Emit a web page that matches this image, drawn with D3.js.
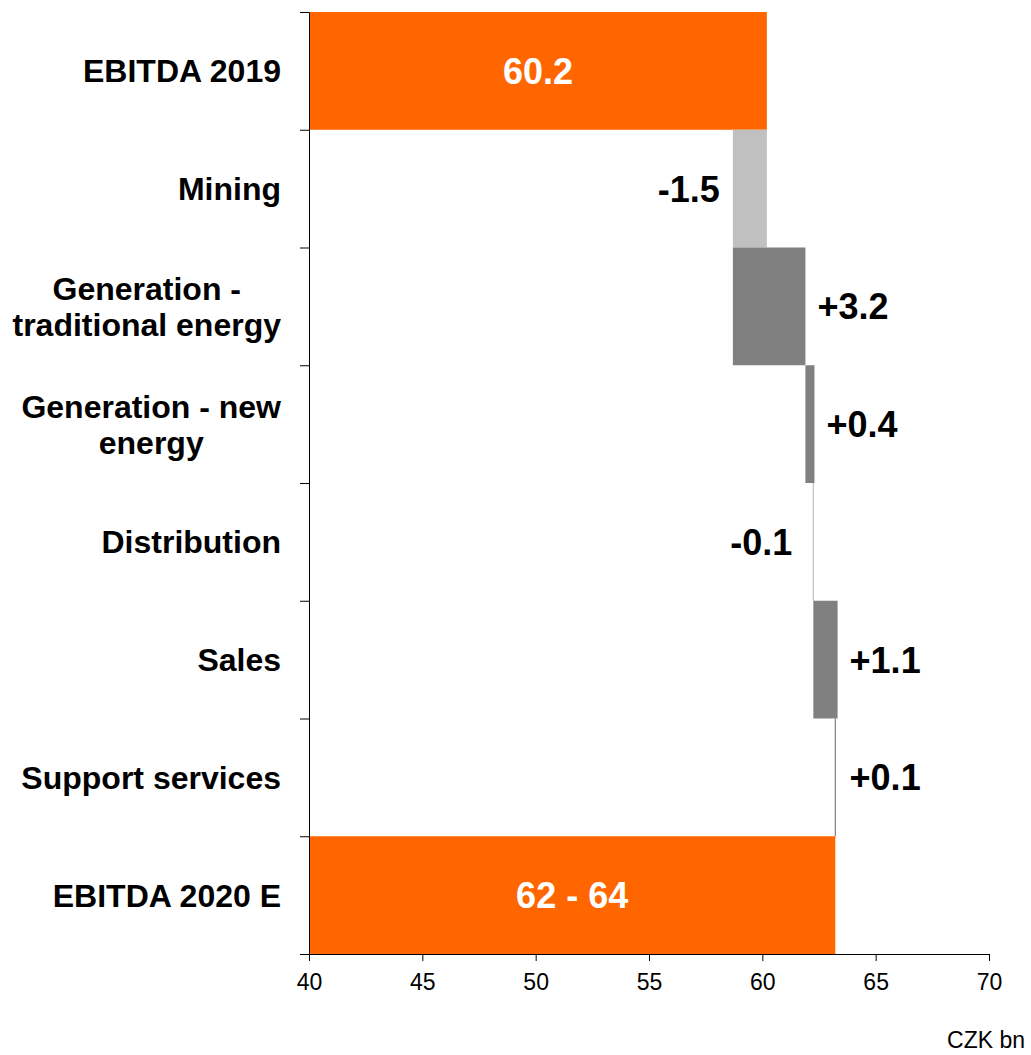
<!DOCTYPE html>
<html>
<head>
<meta charset="utf-8">
<script src="https://cdn.jsdelivr.net/npm/d3@7"></script>
<style>
  html, body { margin: 0; padding: 0; background: #fff; }
  svg { display: block; font-family: "Liberation Sans", Arial, sans-serif; }
</style>
</head>
<body>
<svg id="chart" width="1031" height="1055"></svg>
<script>
// ---- data ----
const categories = ["EBITDA 2019", "Mining", "Generation - traditional energy", "Generation - new energy",
                    "Distribution", "Sales", "Support services", "EBITDA 2020 E"];
const categoryLines = [["EBITDA 2019"], ["Mining"], ["Generation -", "traditional energy"],
                       ["Generation - new", "energy"], ["Distribution"], ["Sales"], ["Support services"], ["EBITDA 2020 E"]];
const startValue = 60.2;
const deltas = [-1.5, 3.2, 0.4, -0.05, 1.07, -0.1];   // as drawn in the picture
const deltaLabels = ["-1.5", "+3.2", "+0.4", "-0.1", "+1.1", "+0.1"];
const endValue = 63.22;
const totalLabels = ["60.2", "62 - 64"];
const xTicks = [40, 45, 50, 55, 60, 65, 70];
const xDomain = [40, 70];
const unitLabel = "CZK bn";

// ---- build bars ----
const bars = [];
bars.push({cat: categories[0], a: xDomain[0], b: startValue, kind: "total", label: totalLabels[0]});
let run = startValue;
deltas.forEach((d, i) => {
  bars.push({cat: categories[i + 1], a: run, b: run + d, kind: deltaLabels[i][0] === "+" ? "up" : "down", label: deltaLabels[i]});
  run += d;
});
bars.push({cat: categories[7], a: xDomain[0], b: endValue, kind: "total", label: totalLabels[1]});

const colors = {total: "#FF6600", up: "#808080", down: "#C0C0C0"};

const svg = d3.select("#chart");
const x = d3.scaleLinear().domain(xDomain).range([309, 989]);
const y = d3.scaleBand().domain(categories).range([12, 954]).padding(0);

// bars
bars.forEach(d => {
  const x0 = x(Math.min(d.a, d.b)), x1 = x(Math.max(d.a, d.b));
  if (x1 - x0 < 3) {
    svg.append("line")
      .attr("x1", x(d.b)).attr("x2", x(d.b))
      .attr("y1", y(d.cat)).attr("y2", y(d.cat) + y.bandwidth())
      .attr("stroke", colors[d.kind]).attr("stroke-width", 1.2);
  } else {
    svg.append("rect")
      .attr("x", x0).attr("y", y(d.cat))
      .attr("width", x1 - x0).attr("height", y.bandwidth())
      .attr("fill", colors[d.kind]);
  }
});

// value labels
bars.forEach(d => {
  const cy = y(d.cat) + y.bandwidth() / 2;
  const t = svg.append("text")
    .attr("y", cy).attr("dy", "0.36em")
    .attr("font-size", 36).attr("font-weight", "bold")
    .text(d.label);
  if (d.kind === "total") {
    t.attr("x", (x(d.a) + x(d.b)) / 2).attr("text-anchor", "middle").attr("fill", "#fff");
  } else if (d.kind === "up") {
    t.attr("x", x(Math.max(d.a, d.b)) + 12).attr("text-anchor", "start").attr("fill", "#000");
  } else {
    const gap = (x(Math.max(d.a, d.b)) - x(Math.min(d.a, d.b)) < 3) ? 21 : 13;
    t.attr("x", x(Math.min(d.a, d.b)) - gap).attr("text-anchor", "end").attr("fill", "#000");
  }
});

// y axis (ticks at band boundaries)
const yIdx = d3.scaleLinear().domain([0, categories.length]).range([12, 954]);
const yAxisG = svg.append("g").attr("transform", "translate(309,0)")
  .call(d3.axisLeft(yIdx).tickValues(d3.range(0, categories.length + 1)).tickFormat("").tickSize(9).tickSizeOuter(0));
yAxisG.selectAll("path, line").attr("stroke", "#000");

// x axis
const xAxisG = svg.append("g").attr("transform", "translate(0,954)")
  .call(d3.axisBottom(x).tickValues(xTicks).tickSize(7).tickSizeOuter(0).tickPadding(13));
xAxisG.attr("font-size", 23).attr("font-family", "\"Liberation Sans\", Arial, sans-serif");
xAxisG.selectAll("path, line").attr("stroke", "#000");
xAxisG.selectAll("text").attr("font-size", 23).attr("fill", "#000");

// category labels: block right edge at 281, lines centered in block
const rightEdge = 281;
categories.forEach((c, i) => {
  const lines = categoryLines[i];
  const cy = y(c) + y.bandwidth() / 2;
  const lh = 36;
  const g = svg.append("g");
  const texts = lines.map((ln, k) => g.append("text")
    .attr("font-size", 32).attr("font-weight", "bold").attr("fill", "#000")
    .attr("y", cy + (k - (lines.length - 1) / 2) * lh).attr("dy", "0.36em")
    .attr("text-anchor", "middle").text(ln));
  const w = d3.max(texts, t => t.node().getComputedTextLength());
  texts.forEach(t => t.attr("x", rightEdge - w / 2));
});

// unit label
svg.append("text").attr("x", 1025).attr("y", 1048).attr("text-anchor", "end")
  .attr("font-size", 23).attr("fill", "#000").text(unitLabel);
</script>
</body>
</html>
